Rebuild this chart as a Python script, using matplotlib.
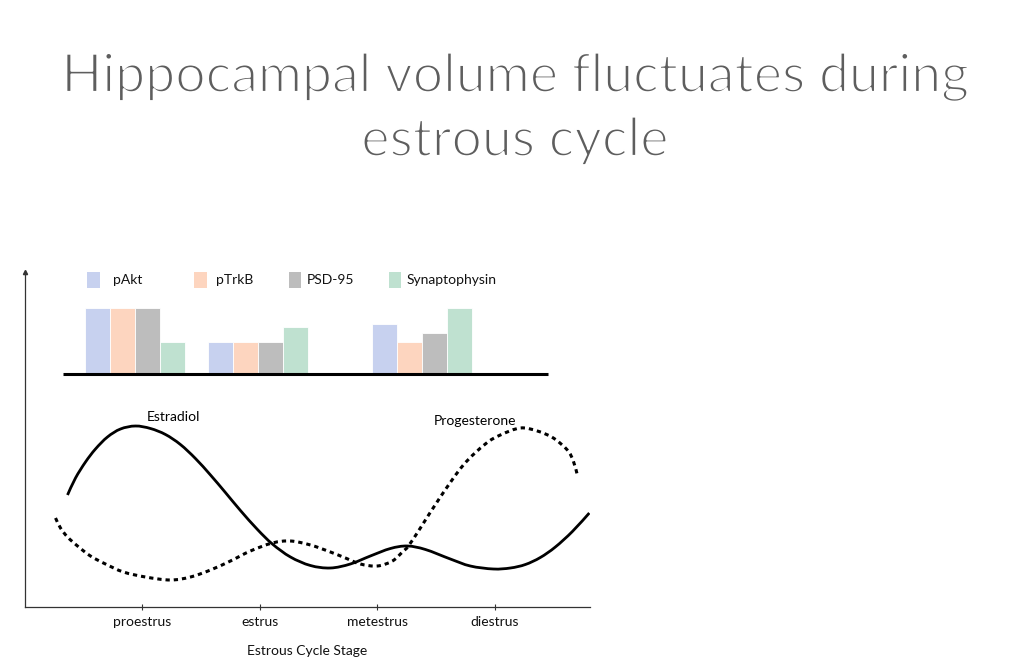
import matplotlib
matplotlib.use("Agg")
import matplotlib.pyplot as plt
import matplotlib.patheffects as pe
import numpy as np
from matplotlib.patches import Rectangle, PathPatch
from matplotlib.path import Path

# ---------------- data ----------------
stages = ["proestrus", "estrus", "metestrus", "diestrus"]
stage_pos = [1, 2, 3, 4]

proteins = ["pAkt", "pTrkB", "PSD-95", "Synaptophysin"]
protein_colors = ["#c7d1ef", "#fdd5bf", "#bdbdbd", "#bfe1d0"]
group_centers = [0.94, 1.98, 3.38]
# relative protein levels per group (columns: pAkt, pTrkB, PSD-95, Synaptophysin)
protein_levels = [
    [2.05, 2.05, 2.05, 1.0],
    [1.0, 1.0, 1.0, 1.48],
    [1.57, 1.0, 1.28, 2.05],
]

estradiol_x = [0.362, 0.430, 0.515, 0.600, 0.702, 0.813, 0.940, 1.068, 1.196, 1.323,
               1.451, 1.579, 1.706, 1.834, 1.979, 2.106, 2.260, 2.430, 2.600, 2.770,
               2.940, 3.111, 3.255, 3.409, 3.621, 3.791, 3.987, 4.132, 4.260, 4.387,
               4.515, 4.660, 4.804]
estradiol_y = [11.2, 12.9, 14.5, 15.8, 17.0, 17.8, 18.1, 17.85, 17.25, 16.25,
               14.85, 13.2, 11.45, 9.65, 7.75, 6.3, 5.0, 4.15, 3.9, 4.3,
               5.1, 5.85, 6.1, 5.75, 4.8, 4.1, 3.8, 3.9, 4.25, 4.95,
               6.0, 7.55, 9.4]

progesterone_x = [0.260, 0.302, 0.362, 0.447, 0.557, 0.685, 0.838, 1.026, 1.238, 1.409,
                  1.579, 1.749, 1.919, 2.106, 2.260, 2.430, 2.600, 2.728, 2.855, 3.000,
                  3.128, 3.213, 3.264, 3.366, 3.536, 3.732, 3.919, 4.047, 4.217, 4.362,
                  4.498, 4.617, 4.668, 4.702]
progesterone_y = [8.9, 7.9, 7.0, 6.1, 5.1, 4.3, 3.5, 3.0, 2.7, 3.0,
                  3.7, 4.6, 5.6, 6.4, 6.6, 6.2, 5.5, 4.9, 4.3, 4.1,
                  4.6, 5.5, 6.1, 7.9, 11.0, 14.2, 16.3, 17.2, 17.9, 17.6,
                  16.9, 15.7, 14.6, 13.2]


def smooth_path(xs, ys):
    """Bezier path passing through every read point (Catmull-Rom tangents)."""
    p = np.column_stack([xs, ys])
    verts = [p[0]]
    codes = [Path.MOVETO]
    n = len(p)
    for i in range(n - 1):
        p0 = p[i - 1] if i > 0 else p[i]
        p3 = p[i + 2] if i + 2 < n else p[i + 1]
        c1 = p[i] + (p[i + 1] - p0) / 6.0
        c2 = p[i + 1] - (p3 - p[i]) / 6.0
        verts += [c1, c2, p[i + 1]]
        codes += [Path.CURVE4] * 3
    return Path(verts, codes)


# ---------------- figure ----------------
W, H = 1028, 665
fig = plt.figure(figsize=(W / 100, H / 100), dpi=100)
fig.patch.set_facecolor("white")

SMALL = ["Lato", "DejaVu Sans"]
title_color = "#5e5e5e"
thin = [pe.Normal(), pe.Stroke(linewidth=1.6, foreground="white")]

fig.text(515 / W, 1 - 92 / H, "Hippocampal volume fluctuates during", ha="center",
         va="baseline", fontsize=38.6, color=title_color, family=SMALL,
         fontweight="normal", path_effects=thin)
fig.text(515 / W, 1 - 156 / H, "estrous cycle", ha="center",
         va="baseline", fontsize=38.6, color=title_color, family=SMALL,
         fontweight="normal", path_effects=thin)

# main axes: px x 25..590, y 272..607
ax_l, ax_r, ax_t, ax_b = 25, 590, 272, 607
ax = fig.add_axes([ax_l / W, 1 - ax_b / H, (ax_r - ax_l) / W, (ax_b - ax_t) / H])
ax.set_xlim(0, 4.81)
ax.set_ylim(0, 33.5)
for s in ["top", "right"]:
    ax.spines[s].set_visible(False)
for s in ["left", "bottom"]:
    ax.spines[s].set_color("#333333")
    ax.spines[s].set_linewidth(0.9)
ax.set_yticks([])
ax.set_xticks(stage_pos)
ax.set_xticklabels(stages, family=SMALL, fontsize=10, color="#111111")
ax.tick_params(axis="x", direction="inout", length=5, width=0.8, color="#333333", pad=4)
ax.set_xlabel("Estrous Cycle Stage", family=SMALL, fontsize=10, color="#111111", labelpad=12)
ax.plot([0], [33.5], marker="^", markersize=3, color="#333333", clip_on=False)

ax.add_patch(PathPatch(smooth_path(estradiol_x, estradiol_y), facecolor="none",
                       edgecolor="black", lw=2.0, capstyle="butt"))
ax.add_patch(PathPatch(smooth_path(progesterone_x, progesterone_y), facecolor="none",
                       edgecolor="black", lw=2.2, linestyle=(0, (1.4, 1.3))))
ax.text(1.04, (607 - 417) / 10, "Estradiol", family=SMALL, fontsize=10, va="center", ha="left")
ax.text(3.48, (607 - 421) / 10, "Progesterone", family=SMALL, fontsize=10, va="center", ha="left")

# bar axes sharing x
axb = ax.twinx()
axb.set_ylim(-7.2, 3.17)
axb.axis("off")
bw = 0.213
for g, center in enumerate(group_centers):
    for i in range(len(proteins)):
        xpos = center + (i - 1.5) * bw
        axb.bar(xpos, protein_levels[g][i], width=bw, color=protein_colors[i],
                edgecolor="white", linewidth=0.6)
axb.plot([0.32, 4.45], [0, 0], color="black", lw=2.2, solid_capstyle="butt")

# legend (manual)
leg_sq_x = [87, 194, 288.5, 388.5]
leg_txt_x = [113, 216, 306.5, 406.5]
for i, p in enumerate(proteins):
    fig.patches.append(Rectangle((leg_sq_x[i] / W, 1 - 288 / H), 12.5 / W, 16 / H,
                                 transform=fig.transFigure, facecolor=protein_colors[i],
                                 edgecolor="none"))
    fig.text(leg_txt_x[i] / W, 1 - 280 / H, p, family=SMALL, fontsize=10,
             va="center", ha="left", color="#111111")

fig.savefig("out.png", dpi=100)
